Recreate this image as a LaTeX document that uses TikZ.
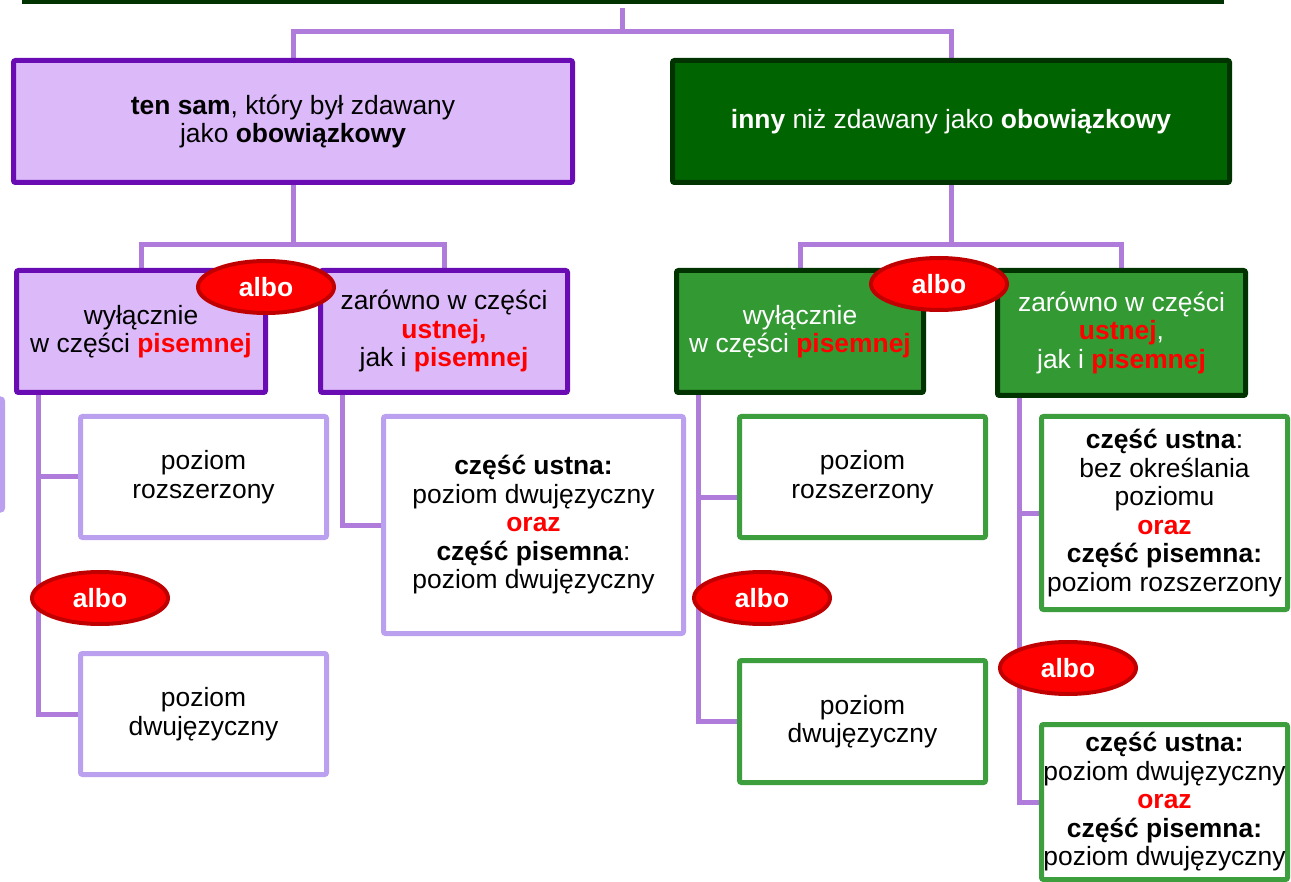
\documentclass[tikz,border=0pt]{standalone}
\usepackage{fontspec}
\setmainfont{Liberation Sans}
\usepackage{tikz}
\usetikzlibrary{shapes.geometric,backgrounds}

\definecolor{lavFill}{RGB}{220,185,249}
\definecolor{purpleB}{RGB}{106,12,180}
\definecolor{lavLine}{RGB}{186,160,238}
\definecolor{linkC}{RGB}{176,124,220}
\definecolor{greenDark}{RGB}{0,100,0}
\definecolor{greenMid}{RGB}{51,153,51}
\definecolor{greenB}{RGB}{0,51,0}
\definecolor{greenLine}{RGB}{60,158,60}
\definecolor{alboRed}{RGB}{255,0,0}
\definecolor{alboDark}{RGB}{192,0,0}

\newcommand{\redb}[1]{\textcolor{alboRed}{\textbf{#1}}}

\begin{document}
\begin{tikzpicture}[x=1pt,y=-1pt,
    every node/.style={font=\fontsize{26.4}{28.5}\selectfont, align=center, inner sep=0pt},
    link/.style={draw=linkC, line width=5pt},
    box/.style={rectangle, rounded corners=2pt, line width=5pt},
    lavbox/.style={box, draw=purpleB, fill=lavFill},
    topgreen/.style={box, draw=greenB, fill=greenDark, text=white},
    midgreen/.style={box, draw=greenB, fill=greenMid, text=white},
    lavleaf/.style={box, draw=lavLine, fill=white},
    greenleaf/.style={box, draw=greenLine, fill=white},
    albo/.style={ellipse, fill=alboRed, draw=alboDark, line width=4pt,
        minimum width=136pt, minimum height=52pt, text=white, font=\fontsize{26.4}{28.5}\selectfont\bfseries}]
    %%Background
    \useasboundingbox (0,0) rectangle (1291,882);
    \clip (0,0) rectangle (1291,882);
    %%
    \draw[line width=8pt, greenB] (22,0) -- (1224,0);
    \draw[lavleaf] (-100,399) rectangle (2.5,510);

    %% first level
    \node[lavbox, minimum width=559pt, minimum height=122pt] (same) at (293,121.5)
        {\textbf{ten sam}, który był zdawany\\jako \textbf{obowiązkowy}};
    \node[topgreen, minimum width=557pt, minimum height=122pt] (other) at (951,121.5)
        {\textbf{inny} niż zdawany jako \textbf{obowiązkowy}};

    %% second level
    \node[lavbox, minimum width=249pt, minimum height=122pt] (onlyW) at (141,331.5)
        {wyłącznie\\w części \redb{pisemnej}};
    \node[lavbox, minimum width=247pt, minimum height=122pt] (bothW) at (444,331.5)
        {zarówno w części\\\redb{ustnej,}\\jak i \redb{pisemnej}};
    \node[midgreen, minimum width=247pt, minimum height=122pt] (onlyG) at (800,331.5)
        {wyłącznie\\w części \redb{pisemnej}};
    \node[midgreen, minimum width=248pt, minimum height=125pt] (bothG) at (1121.5,333)
        {zarówno w części\\\redb{ustnej},\\jak i \redb{pisemnej}};

    %% leaves
    \node[lavleaf, minimum width=246pt, minimum height=121pt] (extW) at (203.5,477)
        {poziom\\rozszerzony};
    \node[lavleaf, minimum width=246pt, minimum height=121pt] (bilW) at (203.5,714)
        {poziom\\dwujęzyczny};
    \node[lavleaf, minimum width=300pt, minimum height=217pt] (mixW) at (533.5,525)
        {\textbf{część ustna:}\\poziom dwujęzyczny\\\redb{oraz}\\\textbf{część pisemna}:\\poziom dwujęzyczny};
    \node[greenleaf, minimum width=246pt, minimum height=121pt] (extG) at (862.5,477)
        {poziom\\rozszerzony};
    \node[greenleaf, minimum width=246pt, minimum height=122pt] (bilG) at (862.5,721.5)
        {poziom\\dwujęzyczny};
    \node[greenleaf, minimum width=246pt, minimum height=193pt] (mixG) at (1164.5,513)
        {\textbf{część ustna}:\\bez określania\\poziomu\\\redb{oraz}\\\textbf{część pisemna:}\\poziom rozszerzony};
    \node[greenleaf, minimum width=246pt, minimum height=155pt] (dualG) at (1164.5,802)
        {\textbf{część ustna:}\\poziom dwujęzyczny\\\redb{oraz}\\\textbf{część pisemna:}\\poziom dwujęzyczny};

    %% connectors
    \coordinate (root) at (622,8);
    \begin{scope}[on background layer]
        \draw[link] (root) -- ++(0,24) -| (same.north);
        \draw[link] (root) -- ++(0,24) -| (other.north);
        \draw[link] (same.south) -- ++(0,60) -| (onlyW.north);
        \draw[link] (same.south) -- ++(0,60) -| (bothW.north);
        \draw[link] (other.south) -- ++(0,60) -| (onlyG.north);
        \draw[link] (other.south) -- ++(0,60) -| (bothG.north);
        \draw[link] ([xshift=24pt]onlyW.south west) |- (extW.west);
        \draw[link] ([xshift=24pt]onlyW.south west) |- (bilW.west);
        \draw[link] ([xshift=24pt]bothW.south west) |- (mixW.west);
        \draw[link] ([xshift=24pt]onlyG.south west) |- ([yshift=-20pt]extG.west);
        \draw[link] ([xshift=24pt]onlyG.south west) |- (bilG.west);
        \draw[link] ([xshift=24pt]bothG.south west) |- (mixG.west);
        \draw[link] ([xshift=24pt]bothG.south west) |- (dualG.west);
    \end{scope}

    %% albo
    \node[albo] (alboA) at (266,287) {albo};
    \node[albo] (alboB) at (939,284) {albo};
    \node[albo] (alboC) at (100,598) {albo};
    \node[albo] (alboD) at (762,598) {albo};
    \node[albo] (alboE) at (1068,668) {albo};
\end{tikzpicture}
\end{document}
